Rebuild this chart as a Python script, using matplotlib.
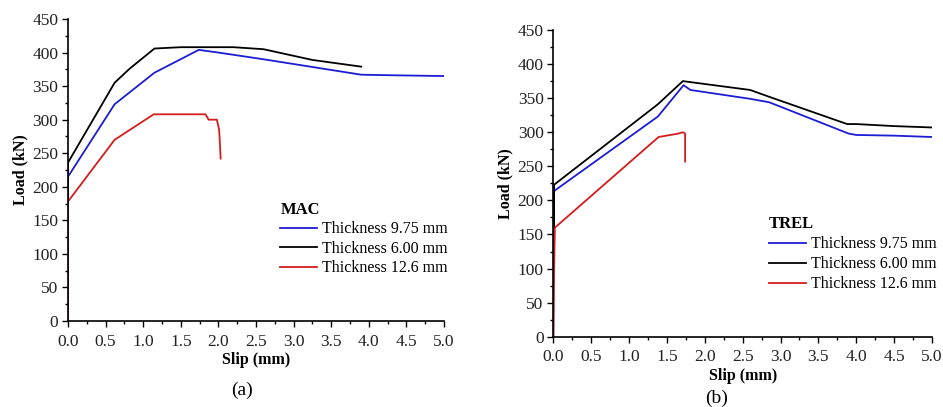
import numpy as np
import matplotlib
matplotlib.use('Agg')
from matplotlib import pyplot as plt
from matplotlib.ticker import MultipleLocator

plt.rcParams['font.family'] = ['Liberation Serif', 'DejaVu Serif']

# (a) MAC
mac_x_975 = [0, 0, 0.62, 1.15, 1.74, 2.0, 2.6, 3.9, 4.4, 5.0]
mac_y_975 = [0, 215, 323, 370, 404, 400, 390, 367, 366, 365]
mac_x_600 = [0, 0, 0.62, 0.82, 1.15, 1.5, 2.2, 2.6, 3.25, 3.9]
mac_y_600 = [180, 236, 355, 376, 406, 408, 408, 405, 389, 379]
mac_x_126 = [0, 0, 0.62, 1.14, 1.83, 1.87, 1.98, 2.01, 2.02, 2.03]
mac_y_126 = [0, 178, 270, 308, 308, 300, 300, 285, 265, 242]

# (b) TREL
trel_x_975 = [0, 0, 1.38, 1.72, 1.81, 2.6, 2.85, 3.9, 4.0, 4.5, 5.0]
trel_y_975 = [0, 213, 323, 369, 362, 349, 344, 298, 296, 295, 293]
trel_x_600 = [0.01, 0.01, 1.38, 1.71, 2.6, 2.85, 3.88, 4.0, 4.5, 5.0]
trel_y_600 = [130, 223, 341, 375, 362, 352, 312, 312, 309, 307]
trel_x_126 = [0, 0.01, 0.02, 1.39, 1.65, 1.71, 1.74, 1.74]
trel_y_126 = [0, 100, 160, 293, 298, 300, 298, 257]

labels = ['Thickness 9.75 mm', 'Thickness 6.00 mm', 'Thickness 12.6 mm']
c_blue = '#1c1cd4'
c_black = '#000000'
c_red = '#d41c1c'

fig = plt.figure(figsize=(9.43, 4.07), dpi=100)
ax1 = fig.add_axes([0.0721, 0.2113, 0.3987, 0.742])
ax2 = fig.add_axes([0.5868, 0.1727, 0.4015, 0.7536])


def style(ax):
    ax.set_xlim(0, 5)
    ax.set_ylim(0, 450)
    ax.xaxis.set_major_locator(MultipleLocator(0.5))
    ax.xaxis.set_minor_locator(MultipleLocator(0.25))
    ax.yaxis.set_major_locator(MultipleLocator(50))
    ax.yaxis.set_minor_locator(MultipleLocator(25))
    ax.xaxis.set_major_formatter(plt.FuncFormatter(lambda v, p: '%.1f' % v))
    ax.spines['top'].set_visible(False)
    ax.spines['right'].set_visible(False)
    ax.tick_params(which='major', direction='out', length=4, width=1, labelsize=12.5,
                   labelcolor='#222222')
    ax.tick_params(axis='x', which='major', pad=5)
    ax.tick_params(axis='y', which='major', pad=3)
    ax.tick_params(which='minor', direction='out', length=2.5, width=1)
    ax.set_xlabel('Slip (mm)', fontweight='bold', fontsize=11.5, labelpad=2)
    ax.set_ylabel('Load (kN)', fontweight='bold', fontsize=11.5, labelpad=3)
    for sp in ax.spines.values():
        sp.set_linewidth(1.2)


ax1.plot(mac_x_975, mac_y_975, color=c_blue, lw=1.3, label=labels[0])
ax1.plot(mac_x_600, mac_y_600, color=c_black, lw=1.3, label=labels[1])
ax1.plot(mac_x_126, mac_y_126, color=c_red, lw=1.3, label=labels[2])
style(ax1)
ax1.legend(title='MAC', loc='upper left', bbox_to_anchor=(0.565, 0.395), frameon=False,
           alignment='left', fontsize=11.5, title_fontproperties={'weight': 'bold', 'size': 12},
           handlelength=2.3, handletextpad=0.3, labelspacing=0.22, borderpad=0, borderaxespad=0)

ax2.plot(trel_x_975, trel_y_975, color=c_blue, lw=1.3, label=labels[0])
ax2.plot(trel_x_600, trel_y_600, color=c_black, lw=1.3, label=labels[1])
ax2.plot(trel_x_126, trel_y_126, color=c_red, lw=1.3, label=labels[2])
style(ax2)
ax2.legend(title='TREL', loc='upper left', bbox_to_anchor=(0.57, 0.392), frameon=False,
           alignment='left', fontsize=11.5, title_fontproperties={'weight': 'bold', 'size': 12},
           handlelength=2.3, handletextpad=0.3, labelspacing=0.25, borderpad=0, borderaxespad=0)

fig.text(242 / 943, 1 - 390 / 407, '(a)', ha='center', va='center', fontsize=14)
fig.text(717 / 943, 1 - 398 / 407, '(b)', ha='center', va='center', fontsize=14)

fig.savefig('out.png', dpi=100)
